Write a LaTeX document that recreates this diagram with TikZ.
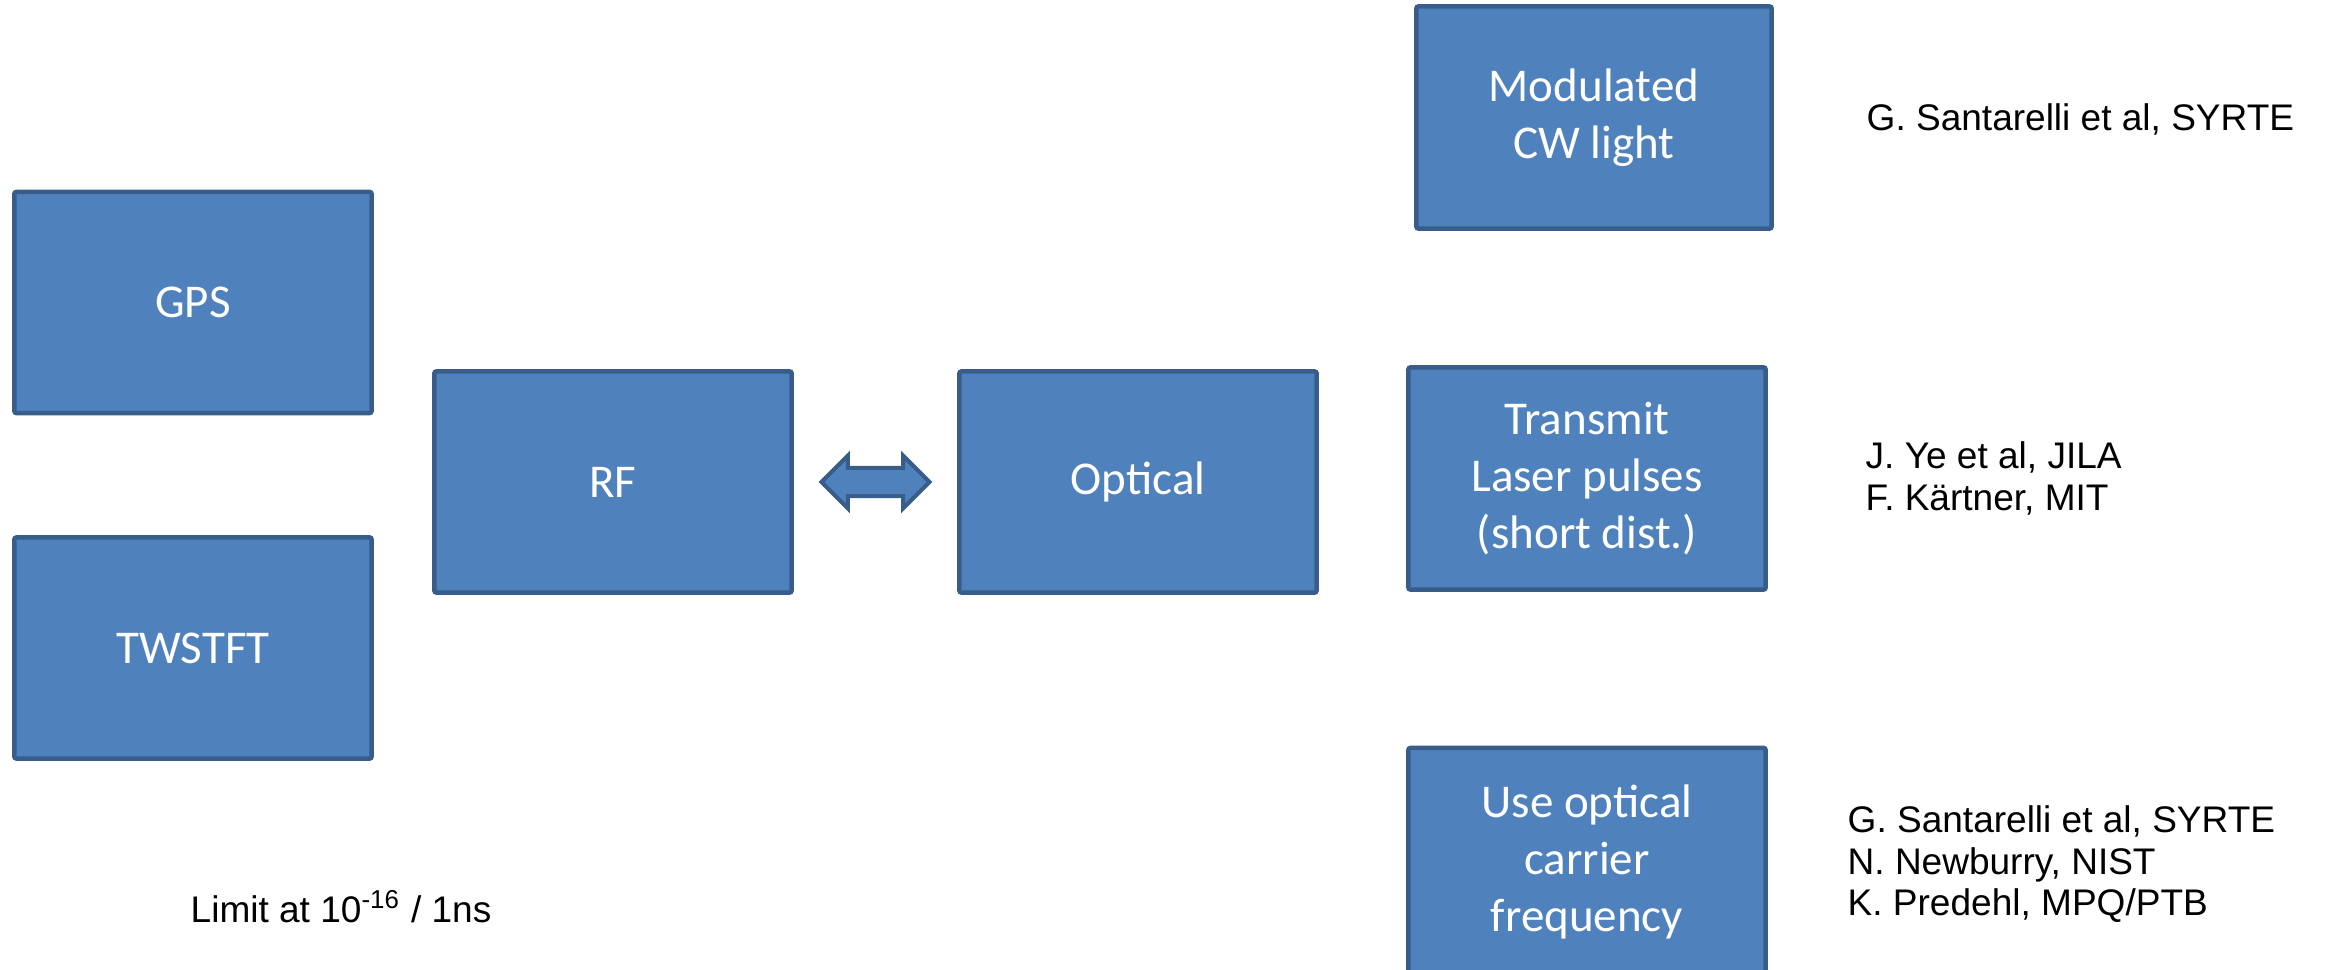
\documentclass[tikz,border=0pt]{standalone}
\usepackage{fontspec}
\setmainfont{Carlito}
\newfontfamily\arialfont{Liberation Sans}
\usetikzlibrary{shapes.arrows,calc}
\definecolor{boxfill}{HTML}{4F81BD}
\definecolor{boxline}{HTML}{385D8A}
\newcommand\myboxfont{\fontsize{13.37}{16.2}\selectfont}
\newcommand\myreffont{\arialfont\fontsize{10.53}{11.8}\selectfont}
\begin{document}
\begin{tikzpicture}[x=0.01cm,y=-0.01cm,
  bluebox/.style={draw=boxline, fill=boxfill, line width=0.045cm, rounded corners=0.02cm,
    text=white, font=\myboxfont, align=center, inner sep=0pt,
    minimum width=3.57cm, minimum height=2.21cm},
  dblarrow/.style={double arrow, draw=boxline, fill=boxfill, line width=0.04cm,
    inner sep=0.12cm, double arrow head extend=0.125cm, minimum height=1.08cm},
  reftext/.style={font=\myreffont, text=black, inner sep=0pt}]
\useasboundingbox (0,0) rectangle (2326,970);
\node[bluebox] (gps) at (193,302.5) {GPS};
\node[bluebox] (tw) at (193,648) {TWSTFT};
\node[bluebox] (rf) at (613,482) {RF};
\node[bluebox] (opt) at (1138,482) {Optical};
\node[bluebox, minimum width=3.55cm, minimum height=2.22cm] (mod) at (1594,117.5) {Modulated\\CW light};
\node[bluebox, minimum height=2.22cm] (tx) at (1587,478.5) {Transmit\\Laser pulses\\(short dist.)};
\node[bluebox, minimum height=2.28cm] (use) at (1587,862) {Use optical\\carrier\\frequency};
\node[dblarrow] (arr) at ($(rf.east)!0.5!(opt.west)$) {};
\node[reftext, anchor=base west] (ref1) at (1866,131) {G. Santarelli et al, SYRTE};
\node[reftext, anchor=north west, align=left] (ref2) at (1865,441) {J. Ye et al, JILA\\F. Kärtner, MIT};
\node[reftext, anchor=north west, align=left] (ref3) at (1847,805) {G. Santarelli et al, SYRTE\\N. Newburry, NIST\\K. Predehl, MPQ/PTB};
\node[reftext, anchor=base west] (lim) at (190,922) {Limit at 10\textsuperscript{-16} / 1ns};
\end{tikzpicture}
\end{document}
